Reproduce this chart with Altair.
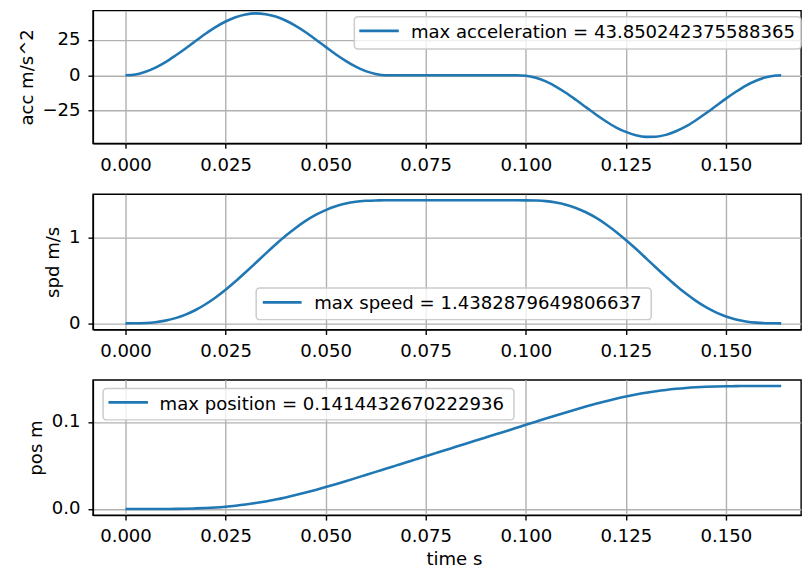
import altair as alt
import pandas as pd

# ---------------- data ----------------
time_s = [
    0.0, 0.0025, 0.005, 0.0075, 0.01, 0.0125, 0.015, 0.0175, 0.02, 0.0225,
    0.025, 0.0275, 0.03, 0.0325, 0.035, 0.0375, 0.04, 0.0425, 0.045, 0.0475,
    0.05, 0.0525, 0.055, 0.0575, 0.06, 0.0625, 0.065, 0.0675, 0.07, 0.0725,
    0.075, 0.0775, 0.08, 0.0825, 0.085, 0.0875, 0.09, 0.0925, 0.095, 0.0975,
    0.1, 0.1025, 0.105, 0.1075, 0.11, 0.1125, 0.115, 0.1175, 0.12, 0.1225,
    0.125, 0.1275, 0.13, 0.1325, 0.135, 0.1375, 0.14, 0.1425, 0.145, 0.1475,
    0.15, 0.1525, 0.155, 0.1575, 0.16, 0.1625, 0.1638,
]
acc = [
    0.0, 0.6, 2.5, 5.4, 9.3, 14.0, 19.0, 24.3, 29.4, 34.1,
    38.1, 41.1, 43.1, 43.85, 43.3, 41.6, 38.8, 35.0, 30.5, 25.4,
    20.1, 14.9, 10.2, 6.1, 2.9, 0.9, 0.0, 0.0, 0.0, 0.0,
    0.0, 0.0, 0.0, 0.0, 0.0, 0.0, 0.0, 0.0, 0.0, 0.0,
    -0.3, -1.75, -4.4, -8.0, -12.4, -17.4, -22.6, -27.8, -32.6, -36.9,
    -40.2, -42.6, -43.7, -43.6, -42.3, -39.75, -36.3, -31.9, -27.0, -21.8,
    -16.6, -11.7, -7.3, -3.9, -1.45, -0.2, 0.0,
]
spd = [
    0.0, 0.0005, 0.0041, 0.0138, 0.0319, 0.0609, 0.1021, 0.1561, 0.2230, 0.3022,
    0.3924, 0.4919, 0.5975, 0.7060, 0.8152, 0.9215, 1.0230, 1.1156, 1.1975, 1.2674,
    1.3244, 1.3686, 1.4006, 1.4216, 1.4325, 1.4373, 1.4383, 1.4383, 1.4383, 1.4383,
    1.4383, 1.4383, 1.4383, 1.4383, 1.4383, 1.4383, 1.4383, 1.4383, 1.4383, 1.4383,
    1.4381, 1.4359, 1.4293, 1.4126, 1.3868, 1.3492, 1.2987, 1.2356, 1.1594, 1.0720,
    0.9751, 0.8714, 0.7629, 0.6535, 0.5463, 0.4431, 0.3479, 0.2628, 0.1894, 0.1285,
    0.0808, 0.0457, 0.0220, 0.0082, 0.0018, 0.0001, 0.0,
]
pos = [
    0.0, 0.0, 0.000005, 0.000026, 0.000081, 0.000195, 0.000397, 0.000717, 0.001188, 0.001845,
    0.00271, 0.00381, 0.00517, 0.0068, 0.0087, 0.01087, 0.01331, 0.01599, 0.01888, 0.02196,
    0.0252, 0.02856, 0.03203, 0.03555, 0.03913, 0.04271, 0.04632, 0.04991, 0.05351, 0.0571,
    0.0607, 0.0643, 0.06789, 0.07149, 0.07508, 0.07868, 0.08227, 0.08587, 0.08947, 0.09306,
    0.09685, 0.10044, 0.10404, 0.10759, 0.11109, 0.11451, 0.11781, 0.12098, 0.12398, 0.12677,
    0.12933, 0.13164, 0.13369, 0.13546, 0.13696, 0.13819, 0.13918, 0.13994, 0.1405, 0.14089,
    0.14115, 0.14131, 0.14139, 0.14143, 0.14144, 0.14144, 0.14144,
]
legend_labels = [
    "max acceleration = 43.850242375588365",
    "max speed = 1.4382879649806637",
    "max position = 0.1414432670222936",
]
y_titles = ["acc m/s^2", "spd m/s", "pos m"]
x_title = "time s"
x_ticks = [0.0, 0.025, 0.05, 0.075, 0.1, 0.125, 0.15]
acc_ticks = [-25, 0, 25]
spd_ticks = [0, 1]
pos_ticks = [0.0, 0.1]

# ---------------- styling ----------------
FONT = "DejaVu Sans"
FS = 18.3
BLUE = "#1f77b4"
W = 717
X_DOMAIN = [-0.00814, 0.16876]

df = pd.DataFrame({"t": time_s, "acc": acc, "spd": spd, "pos": pos})


def panel(field, title, height, ydom, yticks, yfmt, label, box, line, text, xtitle=None):
    x_axis_kw = dict(values=x_ticks, format=".3f")
    if xtitle:
        x_axis_kw.update(title=xtitle, titleX=365.5, titleY=50,
                         titleBaseline="alphabetic", titleAlign="center")
    else:
        x_axis_kw.update(title=None)
    base = alt.Chart(df).mark_line(color=BLUE, strokeWidth=2.6, interpolate="monotone").encode(
        x=alt.X("t:Q", scale=alt.Scale(domain=X_DOMAIN, nice=False, zero=False),
                axis=alt.Axis(**x_axis_kw)),
        y=alt.Y(f"{field}:Q", scale=alt.Scale(domain=ydom, nice=False, zero=False),
                axis=alt.Axis(values=yticks, format=yfmt, title=title, titlePadding=6)),
    )
    lab_df = pd.DataFrame({"label": [label]})
    rect = alt.Chart(lab_df).mark_rect(
        cornerRadius=3.5, fill="white", fillOpacity=0.8, stroke="#cccccc", strokeWidth=1.5
    ).encode(x=alt.value(box[0]), x2=alt.value(box[1]), y=alt.value(box[2]), y2=alt.value(box[3]))
    rule = alt.Chart(lab_df).mark_rule(color=BLUE, strokeWidth=2.6).encode(
        x=alt.value(line[0]), x2=alt.value(line[1]), y=alt.value(line[2]))
    txt = alt.Chart(lab_df).mark_text(
        align="left", baseline="alphabetic", font=FONT, fontSize=FS, color="black"
    ).encode(x=alt.value(text[0]), y=alt.value(text[1]), text="label:N")
    return alt.layer(base, rect, rule, txt).properties(width=W, height=height)


p1 = panel("acc", y_titles[0], 134.5, [-48.3, 45.9], acc_ticks, "d", legend_labels[0],
           box=(264.7, W, 6.3, 39.0), line=(269.7, 309.7, 20.6), text=(322, 28.0))
p2 = panel("spd", y_titles[1], 137, [-0.072, 1.51], spd_ticks, "d", legend_labels[1],
           box=(165.3, 565.3, 95, 127), line=(172, 211.3, 109.5), text=(224, 116))
p3 = panel("pos", y_titles[2], 137, [-0.00707, 0.14851], pos_ticks, ".1f", legend_labels[2],
           box=(10.3, 426.3, 8.8, 40.5), line=(15.7, 55.7, 22.8), text=(67.5, 30.1),
           xtitle=x_title)

chart = alt.vconcat(p1, p2, p3, spacing=51, bounds="flush").properties(
    padding={"left": 8, "top": -4, "right": 0, "bottom": 0}
).configure_axis(
    labelFont=FONT, labelFontSize=FS, titleFont=FONT, titleFontSize=FS,
    titleFontWeight="normal", labelColor="black", titleColor="black",
    domainColor="black", domainWidth=1.4, tickColor="black", tickWidth=1.4, tickSize=5,
    gridColor="#b0b0b0", gridWidth=1.4, labelPadding=8,
).configure_axisX(labelPadding=8).configure_view(stroke="black", strokeWidth=1.4)

chart.save("out.html", embed_options={"renderer": "svg", "actions": False})
